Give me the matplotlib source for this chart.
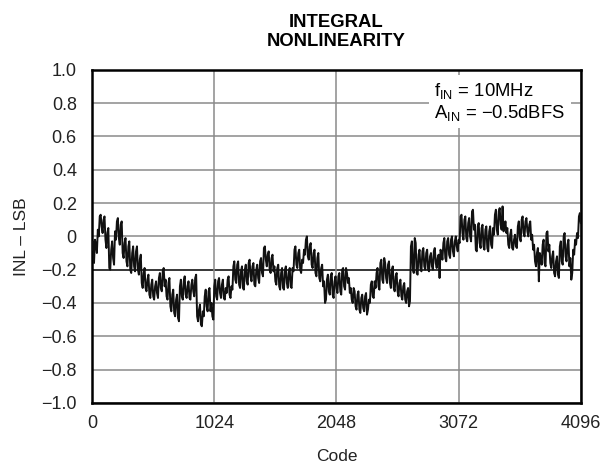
import numpy as np
import matplotlib
matplotlib.use("Agg")
import matplotlib.pyplot as plt

plt.rcParams['font.family'] = ['Liberation Sans', 'DejaVu Sans']
plt.rcParams['mathtext.fontset'] = 'custom'
plt.rcParams['mathtext.rm'] = 'Liberation Sans'

# INL readings: one every 16 codes (0, 16, ... 4096)
inl_a = [
    -0.08, -0.16, -0.05, 0.04, 0.12, 0.06, 0.10, -0.02, 0.02, -0.19, -0.08, -0.13, 0.03, 0.09, -0.01, 0.07,
    -0.10, -0.04, -0.15, -0.06, -0.20, -0.10, -0.18, -0.09, -0.20, -0.14, -0.28, -0.22, -0.31, -0.26, -0.35, -0.29,
    -0.36, -0.30, -0.34, -0.25, -0.31, -0.21, -0.30, -0.36, -0.28, -0.42, -0.35, -0.46, -0.38, -0.49, -0.30, -0.36,
    -0.27, -0.35, -0.30, -0.37, -0.29, -0.33, -0.25, -0.48, -0.44, -0.53, -0.45, -0.36, -0.42, -0.33, -0.45, -0.48,
    -0.30, -0.36, -0.27, -0.34, -0.29, -0.37, -0.31, -0.26, -0.35, -0.30, -0.18, -0.26, -0.17, -0.29, -0.21, -0.31,
    -0.20, -0.27, -0.16, -0.24, -0.18, -0.29, -0.20, -0.25, -0.15, -0.22, -0.07, -0.14, -0.11, -0.20, -0.13, -0.21,
    -0.27, -0.19, -0.30, -0.22, -0.31, -0.20, -0.28, -0.22, -0.30, -0.19, -0.08, -0.17, -0.10, -0.20, -0.14, -0.08,
    -0.02, -0.12, -0.06, -0.17, -0.10, -0.22, -0.13, -0.25, -0.19, -0.30, -0.40, -0.26, -0.33, -0.24, -0.35, -0.27,
    -0.31, -0.24, -0.33, -0.20, -0.30, -0.19, -0.28, -0.34, -0.38, -0.31, -0.42, -0.35, -0.44, -0.37, -0.43, -0.36,
    -0.47, -0.38, -0.29, -0.36, -0.27, -0.22, -0.30, -0.16, -0.26, -0.13, -0.25, -0.17, -0.28, -0.20, -0.31, -0.24,
    -0.33, -0.28, -0.36, -0.30, -0.38, -0.33, -0.42, -0.06, -0.20, -0.01, -0.22, -0.11, -0.19, -0.09, -0.18, -0.10,
    -0.20, -0.12, -0.18, -0.09, -0.16, -0.13, -0.25, -0.10, -0.04, -0.13, -0.03, -0.11, -0.02, -0.09, -0.03, -0.06,
    -0.02, 0.12, 0.02, 0.10, -0.01, 0.08, 0.00, 0.15, 0.04, -0.08, 0.06, -0.04, 0.05, -0.06, 0.04, -0.07,
    0.03, -0.05, 0.05, 0.13, 0.04, 0.15, 0.07, 0.18, 0.05, 0.02, -0.05, 0.01, -0.07, -0.02, -0.06, 0.06,
    -0.01, 0.10, 0.02, 0.09, 0.03, 0.07, -0.02, -0.08, -0.15, -0.10, -0.27, -0.13, -0.05, -0.16, 0.02, -0.09,
    -0.16, -0.12, -0.22, -0.15, -0.23, -0.06, -0.15, 0.00, -0.12, -0.05, -0.18, -0.26, -0.08, -0.02, 0.02, 0.12,
    0.08,
]
# readings in between (codes 8, 24, ... 4088), the noise swings
inl_b = [
    -0.03, -0.02, -0.10, 0.00, 0.13, 0.02, 0.12, -0.07, 0.05, -0.20, -0.03, -0.17, -0.02, 0.11, -0.05, 0.09,
    -0.13, -0.01, -0.18, -0.03, -0.22, -0.06, -0.21, -0.06, -0.23, -0.11, -0.31, -0.19, -0.33, -0.23, -0.37, -0.26,
    -0.38, -0.27, -0.37, -0.22, -0.33, -0.19, -0.26, -0.38, -0.25, -0.45, -0.32, -0.48, -0.35, -0.51, -0.26, -0.38,
    -0.24, -0.37, -0.27, -0.38, -0.26, -0.36, -0.23, -0.51, -0.41, -0.54, -0.48, -0.32, -0.45, -0.31, -0.40, -0.50,
    -0.26, -0.38, -0.25, -0.37, -0.26, -0.38, -0.34, -0.24, -0.37, -0.32, -0.15, -0.28, -0.15, -0.31, -0.18, -0.32,
    -0.17, -0.29, -0.14, -0.27, -0.16, -0.30, -0.17, -0.28, -0.13, -0.24, -0.06, -0.18, -0.09, -0.22, -0.11, -0.18,
    -0.29, -0.17, -0.32, -0.19, -0.32, -0.18, -0.31, -0.19, -0.31, -0.21, -0.06, -0.19, -0.08, -0.22, -0.16, -0.11,
    0.00, -0.14, -0.04, -0.19, -0.08, -0.24, -0.10, -0.27, -0.17, -0.27, -0.38, -0.23, -0.35, -0.22, -0.37, -0.24,
    -0.34, -0.22, -0.35, -0.19, -0.32, -0.22, -0.25, -0.31, -0.40, -0.33, -0.44, -0.33, -0.46, -0.35, -0.45, -0.34,
    -0.44, -0.40, -0.27, -0.37, -0.31, -0.19, -0.32, -0.14, -0.28, -0.16, -0.28, -0.15, -0.31, -0.18, -0.33, -0.22,
    -0.36, -0.26, -0.38, -0.28, -0.40, -0.31, -0.39, -0.03, -0.22, -0.04, -0.23, -0.08, -0.21, -0.07, -0.20, -0.08,
    -0.21, -0.10, -0.20, -0.07, -0.19, -0.11, -0.08, -0.14, -0.01, -0.15, -0.01, -0.13, 0.00, -0.12, 0.00, -0.09,
    -0.04, 0.13, -0.02, 0.12, -0.03, 0.11, -0.03, 0.16, 0.07, -0.09, 0.08, -0.07, 0.07, -0.08, 0.06, -0.09,
    0.06, -0.07, 0.01, 0.16, 0.01, 0.17, 0.04, 0.03, 0.09, 0.05, -0.07, 0.04, -0.08, 0.01, -0.07, 0.09,
    -0.03, 0.12, 0.00, 0.11, 0.00, 0.09, 0.01, -0.05, -0.18, -0.07, -0.10, -0.17, -0.02, -0.18, 0.03, -0.05,
    -0.19, -0.09, -0.24, -0.12, -0.25, -0.03, -0.17, 0.02, -0.15, -0.02, -0.13, -0.22, -0.11, -0.05, -0.01, 0.14,
]

x_ticks = [0, 1024, 2048, 3072, 4096]
y_ticks = [1.0, 0.8, 0.6, 0.4, 0.2, 0, -0.2, -0.4, -0.6, -0.8, -1.0]
y_labels = ["1.0", "0.8", "0.6", "0.4", "0.2", "0", "\u22120.2", "\u22120.4",
            "\u22120.6", "\u22120.8", "\u22121.0"]

# interleave both sets of readings
codes = np.arange(0, 4097, 8)
inl = np.empty(len(codes))
inl[0::2] = inl_a
inl[1::2] = inl_b

fig = plt.figure(figsize=(6.14, 4.69), dpi=100)
ax = fig.add_axes([0.150, 0.141, 0.796, 0.710])

# grid
for yv in y_ticks:
    col = 'black' if yv == -0.2 else '#8a8a8a'
    ax.axhline(yv, color=col, lw=1.1, zorder=1)
for xv in x_ticks:
    ax.axvline(xv, color='#8a8a8a', lw=1.1, zorder=1)

ax.plot(codes, inl, color='#111111', lw=1.4, zorder=3)

ax.set_xlim(0, 4096)
ax.set_ylim(-1.0, 1.0)
ax.set_xticks(x_ticks)
ax.set_yticks(y_ticks)
ax.set_yticklabels(y_labels)
ax.tick_params(length=0, labelsize=13, colors='#222222')
ax.tick_params(axis='y', pad=11)
ax.tick_params(axis='x', pad=9)
for s in ax.spines.values():
    s.set_linewidth(1.8)

ax.set_xlabel("Code", fontsize=12.5, labelpad=12, color='#222222')
ax.set_ylabel("INL \u2013 LSB", fontsize=12.5, labelpad=9, color='#222222')

fig.text(0.548, 0.970, "INTEGRAL\nNONLINEARITY", ha='center', va='top',
         fontsize=13.3, fontweight='bold', linespacing=1.12)

ax.text(0.700, 0.968, "f$_{\\mathrm{IN}}$ = 10MHz\nA$_{\\mathrm{IN}}$ = \u22120.5dBFS",
        transform=ax.transAxes, ha='left', va='top', fontsize=13.3, linespacing=1.15,
        zorder=4, bbox=dict(facecolor='white', edgecolor='none', pad=4))

fig.savefig("out.png", dpi=100)
